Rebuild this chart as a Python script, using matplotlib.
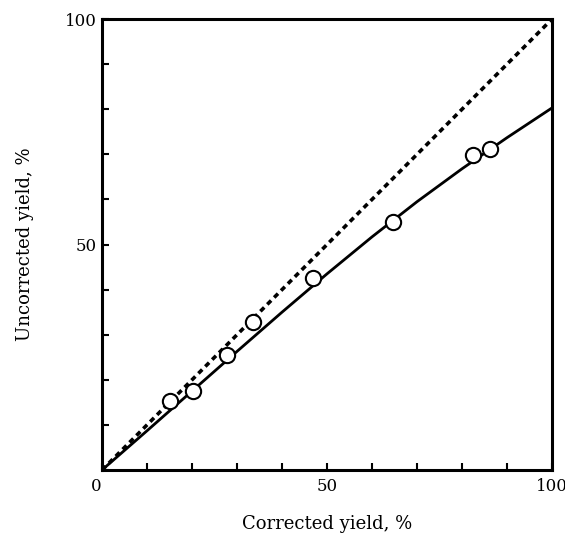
import numpy as np
import matplotlib.pyplot as plt

# measured points (corrected, uncorrected)
corr_pts = [15.1, 20.2, 27.8, 33.6, 46.9, 64.7, 82.4, 86.2]
uncorr_pts = [15.3, 17.5, 25.5, 32.8, 42.6, 55.0, 69.8, 71.2]

# fitted curve
curve_x = [0, 10, 20, 30, 40, 50, 60, 70, 80, 90, 100]
curve_y = [0, 8.7, 17.5, 26.3, 35.0, 43.5, 51.7, 59.5, 66.8, 73.7, 80.3]

# ideal line
ideal_x = [0, 100]
ideal_y = [0, 100]

plt.rcParams['font.family'] = ['DejaVu Serif']

fig = plt.figure(figsize=(5.65, 5.42), dpi=100)
ax = fig.add_axes([0.1805, 0.1328, 0.7965, 0.832])

ax.plot(ideal_x, ideal_y, color='black', lw=2.6, linestyle=(0, (1.5, 1.2)),
        dash_capstyle='butt', zorder=2)
ax.plot(curve_x, curve_y, color='black', lw=2.0, zorder=3)
ax.plot(corr_pts, uncorr_pts, 'o', ms=11, mfc='white', mec='black', mew=1.5, zorder=4)

ax.set_xlim(0, 100)
ax.set_ylim(0, 100)

ax.set_xticks(np.arange(0, 101, 10), minor=True)
ax.set_yticks(np.arange(0, 101, 10), minor=True)
ax.set_xticks([0, 50, 100])
ax.set_yticks([50, 100])
ax.set_xticklabels(['0', '50', '100'])
ax.set_yticklabels(['50', '100'])
ax.get_xticklabels()[0].set_ha('right')

ax.tick_params(which='both', direction='in', length=5, width=1.5, labelsize=12,
               top=False, right=False)
ax.tick_params(axis='x', pad=6)
ax.tick_params(axis='y', pad=4)

for s in ax.spines.values():
    s.set_linewidth(2.2)

ax.set_xlabel('Corrected yield, %', fontsize=13, labelpad=14)
ax.set_ylabel('Uncorrected yield, %', fontsize=13, labelpad=22)

fig.savefig('out.png', dpi=100)
